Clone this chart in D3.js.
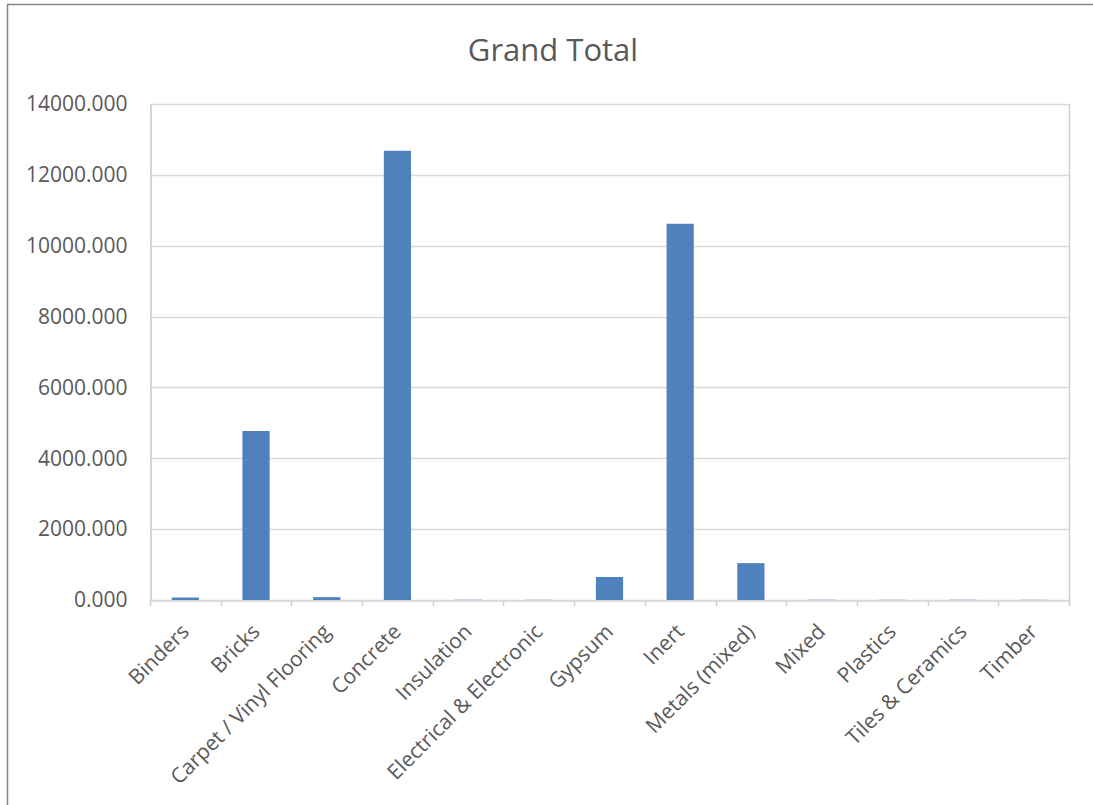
<!DOCTYPE html>
<html>
<head>
<meta charset="utf-8">
<script src="https://cdn.jsdelivr.net/npm/d3@7"></script>
<style>
  html, body { margin: 0; padding: 0; background: #fff; }
  svg { display: block; }
  text { font-family: "Open Sans", "Liberation Sans", sans-serif; fill: #595959; }
</style>
</head>
<body>
<svg id="chart" width="1093" height="805"></svg>
<script>
const categories = ["Binders", "Bricks", "Carpet / Vinyl Flooring", "Concrete", "Insulation",
  "Electrical & Electronic", "Gypsum", "Inert", "Metals (mixed)", "Mixed", "Plastics",
  "Tiles & Ceramics", "Timber"];
const values = [70, 4770, 80, 12680, 8, 6, 650, 10620, 1040, 8, 6, 8, 6];
const yTicks = [0, 2000, 4000, 6000, 8000, 10000, 12000, 14000];
const title = "Grand Total";

const svg = d3.select("#chart");
const W = 1093, H = 805;
const m = { left: 150, right: 24, top: 104, bottom: 205 };
const pw = W - m.left - m.right, ph = H - m.top - m.bottom;

// outer chart border
svg.append("rect").attr("x", 7.5).attr("y", 4.5).attr("width", 1100).attr("height", 820)
  .attr("fill", "#fff").attr("stroke", "#868686").attr("stroke-width", 1.5);

svg.append("text").attr("x", 553).attr("y", 61).attr("text-anchor", "middle")
  .style("font-size", "31px").text(title);

const x = d3.scaleBand().domain(categories).range([m.left, m.left + pw]).paddingInner(0.615).paddingOuter(0.3075);
const xb = d3.scaleBand().domain(categories).range([m.left, m.left + pw]);
const y = d3.scaleLinear().domain([0, 14000]).range([m.top + ph, m.top]);

// gridlines
svg.append("g").selectAll("line").data(yTicks).join("line")
  .attr("x1", m.left).attr("x2", m.left + pw)
  .attr("y1", d => Math.round(y(d)) + 0.5).attr("y2", d => Math.round(y(d)) + 0.5)
  .attr("stroke", "#d9d9d9").attr("stroke-width", 1.5);

// plot area border (right)
svg.append("line").attr("x1", m.left + pw + 0.5).attr("x2", m.left + pw + 0.5)
  .attr("y1", m.top).attr("y2", m.top + ph).attr("stroke", "#d0d0d0").attr("stroke-width", 1.5);

// y axis
const yAxis = d3.axisLeft(y).tickValues(yTicks).tickFormat(d3.format(".3f")).tickSize(0).tickPadding(23);
const gy = svg.append("g").attr("transform", `translate(${m.left + 0.5},0)`).call(yAxis);
gy.select(".domain").attr("stroke", "#c8c8c8").attr("stroke-width", 1.5);
gy.selectAll("text").style("font-size", "21px").style("fill", "#595959")
  .style("font-family", "'Open Sans', sans-serif");

// bars
svg.append("g").selectAll("rect").data(categories).join("rect")
  .attr("x", d => x(d)).attr("width", x.bandwidth())
  .attr("y", (d, i) => y(values[i])).attr("height", (d, i) => y(0) - y(values[i]))
  .attr("fill", "#4f81bd");

// x axis
const xAxis = d3.axisBottom(xb).tickSize(0).tickFormat("");
const gx = svg.append("g").attr("transform", `translate(0,${Math.round(y(0)) + 0.5})`).call(xAxis);
gx.select(".domain").attr("stroke", "#d9d9d9").attr("stroke-width", 1.5);
// boundary ticks
const bounds = categories.map(c => xb(c)).concat([m.left + pw]);
svg.append("g").selectAll("line").data(bounds).join("line")
  .attr("x1", d => Math.round(d) + 0.5).attr("x2", d => Math.round(d) + 0.5)
  .attr("y1", y(0)).attr("y2", y(0) + 6).attr("stroke", "#d0d0d0").attr("stroke-width", 1.5);

// x labels
svg.append("g").selectAll("text").data(categories).join("text")
  .attr("transform", d => `translate(${xb(d) + xb.bandwidth() / 2 + 5},${y(0) + 33}) rotate(-45)`)
  .attr("text-anchor", "end")
  .style("font-size", "21px").text(d => d);
</script>
</body>
</html>
